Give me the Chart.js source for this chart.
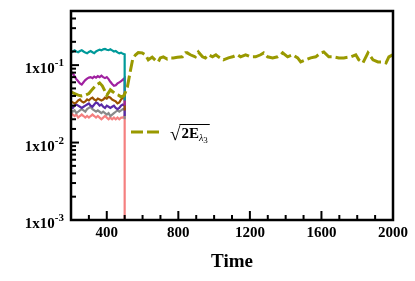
<!DOCTYPE html>
<html>
<head>
<meta charset="utf-8">
<script src="https://cdn.jsdelivr.net/npm/chart.js@4/dist/chart.umd.min.js"></script>
<style>
  html, body { margin: 0; padding: 0; background: #fff; }
  canvas { display: block; }
</style>
</head>
<body>
<canvas id="myChart" width="415" height="281"></canvas>
<script>
  'use strict';

  // time axis for the early modes (last entry repeats 500 for the drop)
  const earlyTime = [200, 210, 220, 230, 240, 250, 260, 270, 280, 290,
    300, 310, 320, 330, 340, 350, 360, 370, 380, 390,
    400, 410, 420, 430, 440, 450, 460, 470, 480, 490, 500, 500];

  const tealValues = [0.145, 0.150, 0.155, 0.150, 0.147, 0.152, 0.156, 0.150, 0.145, 0.142,
    0.148, 0.152, 0.147, 0.143, 0.150, 0.155, 0.158, 0.155, 0.160, 0.162,
    0.158, 0.156, 0.160, 0.155, 0.150, 0.152, 0.146, 0.142, 0.145, 0.140, 0.138, 0.035];
  const purpleValues = [0.082, 0.078, 0.072, 0.066, 0.062, 0.058, 0.056, 0.060, 0.064, 0.067,
    0.069, 0.070, 0.068, 0.071, 0.069, 0.072, 0.070, 0.073, 0.070, 0.068,
    0.070, 0.066, 0.061, 0.057, 0.054, 0.055, 0.058, 0.060, 0.062, 0.065, 0.068, 0.030];
  const brownValues = [0.034, 0.033, 0.032, 0.033, 0.035, 0.036, 0.034, 0.033, 0.034, 0.036,
    0.035, 0.037, 0.038, 0.036, 0.035, 0.037, 0.036, 0.035, 0.036, 0.038,
    0.037, 0.039, 0.038, 0.036, 0.035, 0.034, 0.032, 0.033, 0.036, 0.038, 0.043, 0.026];
  const indigoValues = [0.029, 0.028, 0.030, 0.031, 0.030, 0.029, 0.028, 0.029, 0.030, 0.031,
    0.032, 0.030, 0.029, 0.031, 0.033, 0.032, 0.030, 0.031, 0.029, 0.028,
    0.030, 0.029, 0.028, 0.029, 0.030, 0.028, 0.027, 0.028, 0.030, 0.031, 0.030, 0.022];
  const grayValues = [0.026, 0.025, 0.026, 0.024, 0.025, 0.026, 0.027, 0.026, 0.025, 0.027,
    0.028, 0.029, 0.027, 0.026, 0.025, 0.026, 0.025, 0.024, 0.025, 0.024,
    0.023, 0.024, 0.022, 0.023, 0.024, 0.025, 0.026, 0.025, 0.026, 0.027, 0.027, 0.020];
  const salmonValues = [0.024, 0.023, 0.022, 0.023, 0.021, 0.022, 0.023, 0.022, 0.021, 0.022,
    0.021, 0.022, 0.023, 0.022, 0.021, 0.022, 0.021, 0.020, 0.021, 0.022,
    0.021, 0.020, 0.021, 0.020, 0.021, 0.020, 0.021, 0.020, 0.021, 0.021, 0.022, 0.0001];

  // sqrt(2 E_lambda3), whole run
  const oliveTime = [200, 220, 240, 260, 280, 300, 320, 340, 360, 375, 390, 400, 410, 420, 435,
    450, 465, 480, 495, 505, 515, 530, 545, 560, 576, 598, 615, 632, 654, 671, 688, 699,
    716, 738, 755, 772, 795, 823, 840, 850, 867, 895, 912, 935, 951, 968, 991, 1010, 1024,
    1052, 1080, 1103, 1131, 1148, 1176, 1204, 1232, 1260, 1277, 1299, 1327, 1355, 1372,
    1383, 1411, 1439, 1467, 1484, 1512, 1540, 1568, 1596, 1613, 1641, 1669, 1697, 1725,
    1764, 1792, 1809, 1832, 1860, 1888, 1916, 1944, 1961, 1977, 2000];
  const oliveValues = [0.045, 0.043, 0.041, 0.040, 0.041, 0.043, 0.049, 0.055, 0.059, 0.054,
    0.046, 0.041, 0.044, 0.048, 0.045, 0.042, 0.041, 0.039, 0.040, 0.045, 0.052, 0.080,
    0.120, 0.135, 0.145, 0.144, 0.136, 0.117, 0.127, 0.116, 0.110, 0.124, 0.128, 0.120,
    0.124, 0.124, 0.126, 0.128, 0.144, 0.144, 0.136, 0.128, 0.148, 0.128, 0.124, 0.136,
    0.128, 0.136, 0.128, 0.117, 0.124, 0.128, 0.136, 0.128, 0.136, 0.128, 0.128, 0.136,
    0.144, 0.128, 0.124, 0.128, 0.136, 0.144, 0.128, 0.136, 0.124, 0.110, 0.117, 0.124,
    0.128, 0.144, 0.148, 0.128, 0.128, 0.124, 0.124, 0.128, 0.136, 0.117, 0.107, 0.144,
    0.117, 0.110, 0.110, 0.107, 0.128, 0.136];

  const xMin = 200, xMax = 2000, yMin = 0.001, yMax = 0.5;
  const serif = '"Liberation Serif", "Times New Roman", serif';

  function pairs(t, v) {
    return v.map(function (y, i) { return { x: t[i], y: y }; });
  }

  function series(values, colour) {
    return { data: pairs(earlyTime, values), borderColor: colour, borderWidth: 2.2 };
  }

  const datasets = [
    { data: pairs(oliveTime, oliveValues), borderColor: '#999900', borderWidth: 3, borderDash: [12, 4] },
    series(tealValues, '#009a9a'),
    series(purpleValues, '#a020a0'),
    series(brownValues, '#9a5200'),
    series(indigoValues, '#5a2aa8'),
    series(grayValues, '#8a8a8a'),
    series(salmonValues, '#f58080')
  ];

  // frame, inward ticks, tick labels, axis title, legend
  const decorations = {
    id: 'decorations',
    afterDraw: function (chart) {
      const c = chart.ctx, a = chart.chartArea;
      const xs = chart.scales.x, ys = chart.scales.y;
      c.save();
      c.strokeStyle = '#000';
      c.fillStyle = '#000';

      // x ticks
      c.lineWidth = 2;
      xs.ticks.forEach(function (t) {
        const px = xs.getPixelForValue(t.value);
        const major = t.value % 400 === 0;
        c.beginPath();
        c.moveTo(px, a.bottom);
        c.lineTo(px, a.bottom - (major ? 9 : 5));
        c.stroke();
        if (major) {
          c.font = 'bold 15px ' + serif;
          c.textAlign = 'center';
          c.textBaseline = 'top';
          c.fillText(String(t.value), px, a.bottom + 6);
        }
      });

      // y ticks
      ys.ticks.forEach(function (t) {
        const py = ys.getPixelForValue(t.value);
        const e = Math.log10(t.value);
        const major = Math.abs(e - Math.round(e)) < 1e-6;
        c.beginPath();
        c.moveTo(a.left, py);
        c.lineTo(a.left + (major ? 8 : 5), py);
        c.stroke();
        if (major) {
          const exp = String(Math.round(e));
          c.font = 'bold 11px ' + serif;
          const we = c.measureText(exp).width;
          c.textAlign = 'left';
          c.textBaseline = 'alphabetic';
          c.fillText(exp, 64 - we, py + 1);
          c.font = 'bold 15px ' + serif;
          c.textAlign = 'right';
          c.fillText('1x10', 64 - we, py + 8);
        }
      });

      // frame
      c.lineWidth = 2.5;
      c.strokeRect(a.left, a.top, a.right - a.left, a.bottom - a.top);

      // axis title
      c.font = 'bold 19px ' + serif;
      c.textAlign = 'center';
      c.textBaseline = 'middle';
      c.fillText('Time', (a.left + a.right) / 2, 262);

      // legend
      const ly = 132;
      c.strokeStyle = '#999900';
      c.lineWidth = 3;
      c.setLineDash([12, 4]);
      c.beginPath();
      c.moveTo(131, ly);
      c.lineTo(160, ly);
      c.stroke();
      c.setLineDash([]);

      c.fillStyle = '#000';
      c.strokeStyle = '#000';
      c.textAlign = 'left';
      c.textBaseline = 'alphabetic';
      c.font = '19px ' + serif;
      c.fillText('\u221A', 170, ly + 8);
      let x = 170 + c.measureText('\u221A').width;
      const x0 = x;
      c.font = 'bold 15px ' + serif;
      c.fillText('2E', x + 1, ly + 6);
      x += 1 + c.measureText('2E').width;
      c.font = 'italic 10px ' + serif;
      c.fillText('\u03BB', x, ly + 9);
      x += c.measureText('\u03BB').width;
      c.font = '9px ' + serif;
      c.fillText('3', x, ly + 11);
      x += c.measureText('3').width;
      c.lineWidth = 1;
      c.beginPath();
      c.moveTo(x0 - 1, ly - 7.5);
      c.lineTo(x + 2, ly - 7.5);
      c.stroke();

      c.restore();
    }
  };

  const config = {
    type: 'line',
    data: { datasets: datasets },
    options: {
      responsive: false,
      animation: false,
      layout: { padding: { left: 0, right: 22, top: 11, bottom: 0 } },
      elements: { point: { radius: 0 }, line: { tension: 0 } },
      plugins: { legend: { display: false }, tooltip: { enabled: false } },
      scales: {
        x: {
          type: 'linear', min: xMin, max: xMax,
          ticks: { display: false, stepSize: 100 },
          grid: { display: false }, border: { display: false },
          afterFit: function (s) { s.height = 61; }
        },
        y: {
          type: 'logarithmic', min: yMin, max: yMax,
          ticks: { display: false },
          grid: { display: false }, border: { display: false },
          afterFit: function (s) { s.width = 71; }
        }
      }
    },
    plugins: [decorations]
  };

  const myChart = new Chart(document.getElementById('myChart'), config);
</script>
</body>
</html>
